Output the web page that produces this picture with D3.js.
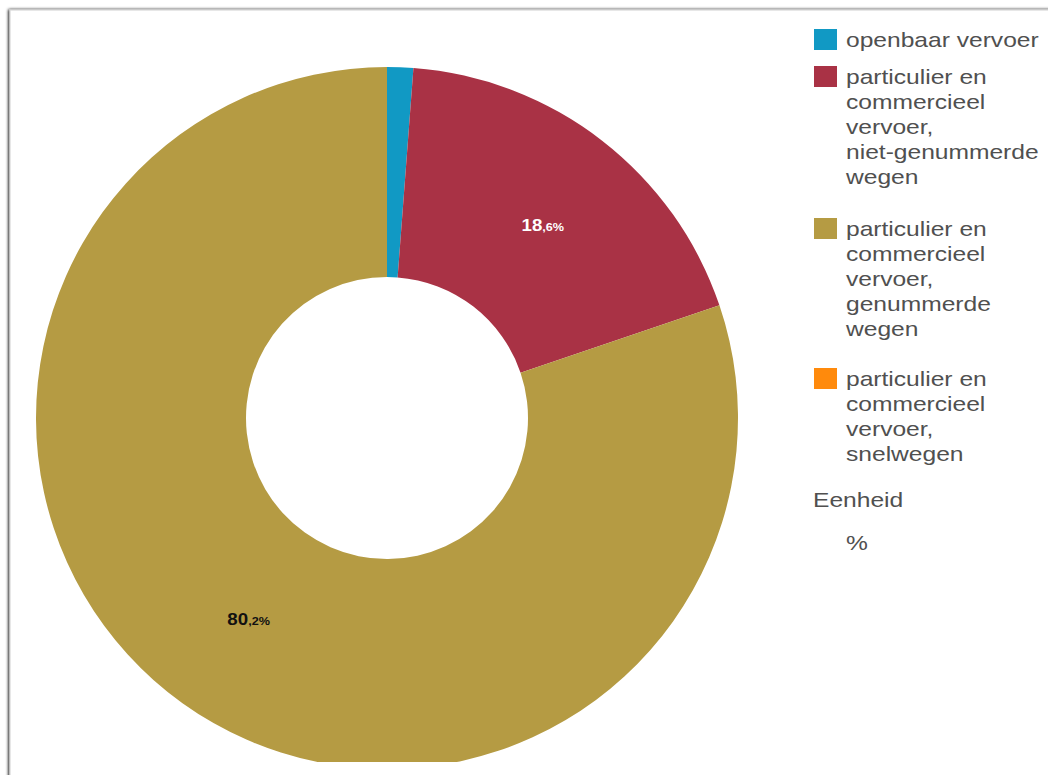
<!DOCTYPE html>
<html><head><meta charset="utf-8">
<script src="https://cdn.jsdelivr.net/npm/d3@7"></script>
<style>
html,body{margin:0;padding:0;background:#fff;}
svg{display:block;font-family:"Liberation Sans",Arial,sans-serif;}
</style></head>
<body>
<svg id="chart" width="1048" height="775"></svg>
<script>
const categories = ["openbaar vervoer",
  "particulier en commercieel vervoer, niet-genummerde wegen",
  "particulier en commercieel vervoer, genummerde wegen",
  "particulier en commercieel vervoer, snelwegen"];
const legendLines = [
  ["openbaar vervoer"],
  ["particulier en","commercieel","vervoer,","niet-genummerde","wegen"],
  ["particulier en","commercieel","vervoer,","genummerde","wegen"],
  ["particulier en","commercieel","vervoer,","snelwegen"]
];
const values = [1.2, 18.6, 80.2, 0];
const colors = ["#1199c4", "#a93245", "#b59b43", "#ff8a0c"];
const labelColors = ["#fff", "#fff", "#111", "#111"];
const unitTitle = "Eenheid";
const unitValue = "%";

const svg = d3.select("#chart");
const defs = svg.append("defs");
const f = defs.append("filter").attr("id","sh").attr("x","-5%").attr("y","-5%").attr("width","110%").attr("height","110%");
f.append("feGaussianBlur").attr("in","SourceAlpha").attr("stdDeviation",1.5);
f.append("feOffset").attr("dx",-1).attr("dy",0).attr("result","b");
const fm = f.append("feMerge"); fm.append("feMergeNode").attr("in","b"); fm.append("feMergeNode").attr("in","SourceGraphic");

// card
svg.append("rect").attr("x",10).attr("y",10).attr("width",1100).attr("height",800)
  .attr("fill","#fff").attr("stroke","#d8d8d8").attr("stroke-width",1.2).attr("filter","url(#sh)");

defs.append("clipPath").attr("id","clip").append("rect").attr("x",0).attr("y",0).attr("width",1048).attr("height",762);

const cx = 387, cy = 418, R = 351, r0 = 141;
const pie = d3.pie().sort(null).value(d => d);
const arcs = pie(values);
const arc = d3.arc().innerRadius(r0).outerRadius(R);
const g = svg.append("g").attr("clip-path","url(#clip)").append("g").attr("transform",`translate(${cx},${cy})`);
g.selectAll("path").data(arcs).join("path")
  .attr("d", arc).attr("fill", (d,i) => colors[i]);

const fmt = v => { const s = v.toFixed(1).split("."); return [s[0], "," + s[1] + "%"]; };
arcs.forEach((d,i) => {
  if (values[i] < 5) return;
  const [a,b] = arc.centroid(d);
  const parts = fmt(values[i]);
  const t = g.append("text").attr("text-anchor","middle").attr("font-weight","bold")
    .attr("fill", labelColors[i])
    .attr("transform", `translate(${a+5},${b+7}) scale(1.1,1)`);
  t.append("tspan").attr("font-size",17).text(parts[0]);
  t.append("tspan").attr("font-size",11.5).text(parts[1]);
});

// legend
const lx = 814, tx = 846, sx = 1.2;
const itemTops = [29, 66, 218, 368];
const lineH = 25;
const lg = svg.append("g");
categories.forEach((c,i) => {
  const top = itemTops[i];
  lg.append("rect").attr("x",lx).attr("y",top).attr("width",23).attr("height",21).attr("fill",colors[i]);
  legendLines[i].forEach((ln,j) => {
    lg.append("text").attr("transform",`translate(${tx},${top + 18 + j*lineH}) scale(${sx},1)`)
      .attr("font-size",20.5).attr("fill","#505050").text(ln);
  });
});
lg.append("text").attr("transform",`translate(${lx-1},507) scale(${sx},1)`).attr("font-size",20.5).attr("fill","#505050").text(unitTitle);
lg.append("text").attr("transform",`translate(${tx},550) scale(${sx},1)`).attr("font-size",20.5).attr("fill","#505050").text(unitValue);
</script>
</body></html>
